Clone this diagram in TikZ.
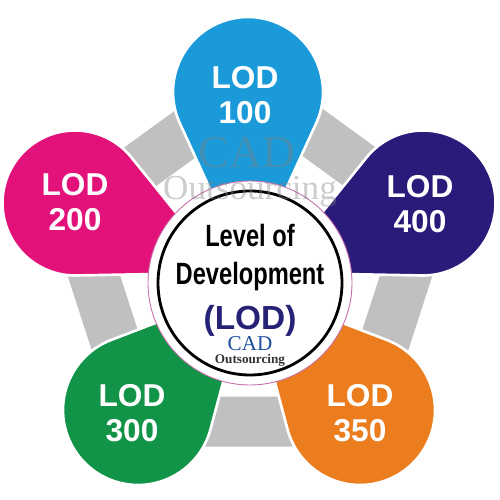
\documentclass[tikz,border=0pt]{standalone}
\usepackage{fontspec}
\usepackage{tikz}
\usetikzlibrary{calc}
\setmainfont{Liberation Sans}
\newfontfamily\narrowsans[FakeStretch=0.77]{Liberation Sans}
\newfontfamily\serifmark{Liberation Serif}
\definecolor{lodblue}{RGB}{26,154,217}
\definecolor{lodpink}{RGB}{226,18,122}
\definecolor{lodpurple}{RGB}{42,26,122}
\definecolor{lodgreen}{RGB}{18,148,72}
\definecolor{lodorange}{RGB}{236,125,30}
\definecolor{bandgray}{RGB}{192,192,192}
\definecolor{hubpink}{RGB}{200,110,170}
\definecolor{navy}{RGB}{38,34,118}
\definecolor{cadblue}{RGB}{28,78,156}
\tikzset{band/.style={draw=bandgray,line width=1cm,line join=round},dropshape/.style={draw=white,line width=1.5pt},droplabel/.style={text=white,align=center,font=\fontsize{18}{20}\selectfont\bfseries},hub/.style={circle,fill=white,draw=hubpink,line width=0.5pt,minimum size=4.08cm,inner sep=0pt},ring/.style={circle,draw=black,line width=1.6pt,minimum size=3.68cm,inner sep=0pt},hubtext/.style={anchor=base,font=\narrowsans\fontsize{17.5}{20}\selectfont\bfseries},wmark/.style={text=gray,text opacity=0.4,font=\serifmark}}

\begin{document}
\begin{tikzpicture}
\useasboundingbox (0,0) rectangle (10,10);
% pentagon band
\coordinate (pent) at (5,4.56);
\coordinate (p1) at ([shift={(90:3.7)}]pent);
\coordinate (p2) at ([shift={(162:3.7)}]pent);
\coordinate (p3) at ([shift={(234:3.7)}]pent);
\coordinate (p4) at ([shift={(306:3.7)}]pent);
\coordinate (p5) at ([shift={(18:3.7)}]pent);
\draw[band] (p1)--(p2)--(p3)--(p4)--(p5)--cycle;
% drops
\coordinate (c100) at (4.96,8.16);
\coordinate (c200) at (1.5,5.94);
\coordinate (c400) at (8.46,5.94);
\coordinate (c300) at (2.76,1.8);
\coordinate (c350) at (7.2,1.8);
\foreach \ctr/\rad/\tip/\ang/\col in {c100/1.5/3.6/-90/lodblue,c200/1.45/3.3/-25/lodpink,c400/1.45/3.3/205/lodpurple,c300/1.5/3.3/48/lodgreen,c350/1.5/3.3/132/lodorange}{
  \pgfmathsetmacro\alph{acos(\rad/\tip)}
  \begin{scope}[shift={(\ctr)},rotate=\ang]
    \filldraw[dropshape,fill=\col] (\alph:\rad) arc[start angle=\alph,end angle=360-\alph,radius=\rad] -- (\tip,0) -- cycle;
  \end{scope}
}
\node[droplabel] (l100) at (4.9,8.1) {LOD\\100};
\node[droplabel] (l200) at (1.5,5.96) {LOD\\200};
\node[droplabel] (l400) at (8.4,5.92) {LOD\\400};
\node[droplabel] (l300) at (2.64,1.74) {LOD\\300};
\node[droplabel] (l350) at (7.2,1.74) {LOD\\350};
% centre
\node[hub] (hub) at (5,4.34) {};
\node[ring] (ring) at (hub) {};
\node[hubtext] (lvl) at (5,5.06) {Level of};
\node[hubtext] (dev) at (5,4.3) {Development};
\node[anchor=base,text=navy,font=\fontsize{19}{22}\selectfont\bfseries] (lodt) at (5,3.4) {(LOD)};
\node[anchor=base,text=cadblue,font=\serifmark\fontsize{12}{14}\selectfont] (cadt) at (5,2.98) {CAD};
\node[anchor=base,text=black!80,font=\serifmark\fontsize{7.5}{8}\selectfont\bfseries] (outt) at (5,2.73) {Outsourcing};
% watermark
\node[wmark,font=\serifmark\fontsize{26}{28}\selectfont] (wcad) at (4.94,6.94) {CAD};
\node[wmark,anchor=base,font=\serifmark\fontsize{20}{22}\selectfont] (wout) at (5,6.0) {Outsourcing};
\end{tikzpicture}
\end{document}
